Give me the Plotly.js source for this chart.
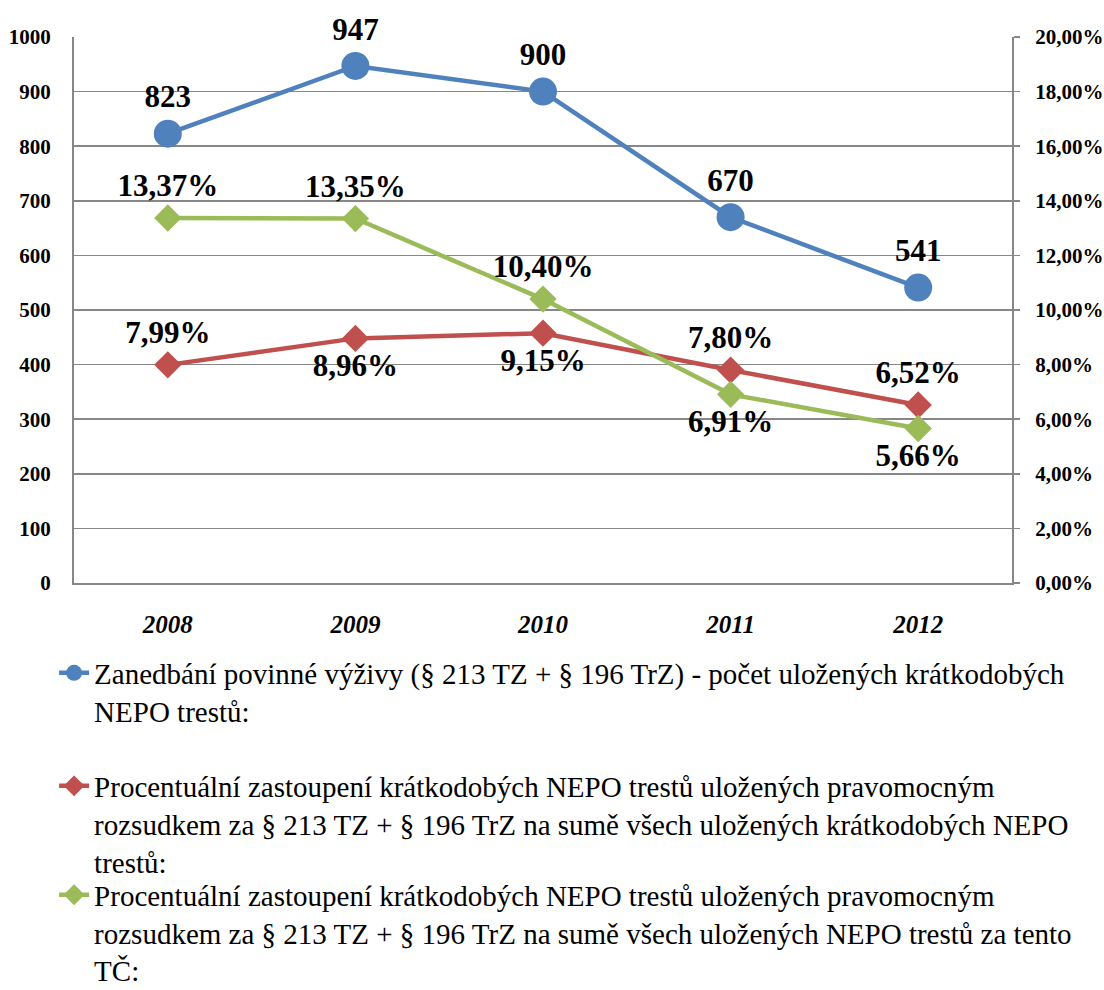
<!DOCTYPE html>
<html>
<head>
<meta charset="utf-8">
<script src="https://cdn.plot.ly/plotly-3.0.1.min.js"></script>
<style>body{margin:0;padding:0;background:#fff}#chart{width:1104px;height:990px}</style>
</head>
<body>
<div id="chart"></div>
<script>
const years = ['2008', '2009', '2010', '2011', '2012'];
const countValues = [823, 947, 900, 670, 541];
const shareShortValues = [0.0799, 0.0896, 0.0915, 0.0780, 0.0652];
const shareAllValues = [0.1337, 0.1335, 0.1040, 0.0691, 0.0566];
const seriesNames = [
  'Zanedbání povinné výživy (§ 213 TZ + § 196 TrZ) - počet uložených krátkodobých<br>NEPO trestů:',
  'Procentuální zastoupení krátkodobých NEPO trestů uložených pravomocným<br>rozsudkem za § 213 TZ + § 196 TrZ na sumě všech uložených krátkodobých NEPO<br>trestů:',
  'Procentuální zastoupení krátkodobých NEPO trestů uložených pravomocným<br>rozsudkem za § 213 TZ + § 196 TrZ na sumě všech uložených NEPO trestů za tento<br>TČ:'
];

const FONT = 'Liberation Serif';
const labelFont = {family: FONT, size: 31, color: '#000', weight: 'bold'};

const traces = [
  {
    x: years, y: countValues, name: seriesNames[0], legend: 'legend',
    type: 'scatter', mode: 'lines+markers+text',
    line: {color: '#4F81BD', width: 4.5},
    marker: {symbol: 'circle', size: 28, color: '#4F81BD'},
    texttemplate: '%{y}', textposition: 'top center', textfont: labelFont,
    cliponaxis: false
  },
  {
    x: years, y: shareShortValues, name: seriesNames[1], legend: 'legend2', yaxis: 'y2',
    type: 'scatter', mode: 'lines+markers+text',
    line: {color: '#C0504D', width: 4.5},
    marker: {symbol: 'diamond', size: 21, color: '#C0504D'},
    texttemplate: '%{y:.2%}',
    textposition: ['top center', 'bottom center', 'bottom center', 'top center', 'top center'],
    textfont: labelFont, cliponaxis: false
  },
  {
    x: years, y: shareAllValues, name: seriesNames[2], legend: 'legend3', yaxis: 'y2',
    type: 'scatter', mode: 'lines+markers+text',
    line: {color: '#9BBB59', width: 4.5},
    marker: {symbol: 'diamond', size: 21, color: '#9BBB59'},
    texttemplate: '%{y:.2%}',
    textposition: ['top center', 'top center', 'top center', 'bottom center', 'bottom center'],
    textfont: labelFont, cliponaxis: false
  }
];

function legendAt(y) {
  return {
    orientation: 'v', xref: 'container', yref: 'container',
    x: 0.049, xanchor: 'left', y: y, yanchor: 'top', valign: 'top',
    font: {family: FONT, size: 29, color: '#000'},
    bgcolor: 'rgba(0,0,0,0)'
  };
}

const layout = {
  width: 1104, height: 990,
  margin: {l: 74, r: 92, t: 37, b: 407, autoexpand: false},
  paper_bgcolor: '#fff', plot_bgcolor: '#fff',
  separators: ', ',
  showlegend: true,
  font: {family: FONT, color: '#000'},
  xaxis: {
    type: 'category', range: [-0.5, 4.5], automargin: false,
    showline: true, linecolor: '#878787', linewidth: 2,
    showgrid: false, ticks: '',
    tickfont: {family: FONT, size: 25, weight: 'bold', style: 'italic', color: '#000'},
    ticklabelstandoff: 18
  },
  yaxis: {
    range: [0, 1000], dtick: 100, tick0: 0, automargin: false,
    showline: true, linecolor: '#878787', linewidth: 2,
    showgrid: true, gridcolor: '#878787', gridwidth: 1.5,
    zeroline: false, ticks: '',
    tickfont: {family: FONT, size: 21, weight: 'bold', color: '#000'},
    ticklabelstandoff: 17
  },
  yaxis2: {
    overlaying: 'y', side: 'right', automargin: false,
    range: [0, 0.2], dtick: 0.02, tick0: 0, tickformat: '.2%',
    showline: true, linecolor: '#878787', linewidth: 2,
    showgrid: false, zeroline: false,
    ticks: 'outside', ticklen: 6, tickcolor: '#878787', tickwidth: 1.5,
    tickfont: {family: FONT, size: 21, weight: 'bold', color: '#000'},
    ticklabelstandoff: 11
  },
  legend: legendAt(0.346),
  legend2: legendAt(0.2318),
  legend3: legendAt(0.1218)
};

Plotly.newPlot('chart', traces, layout, {displayModeBar: false, staticPlot: true});
</script>
</body>
</html>
